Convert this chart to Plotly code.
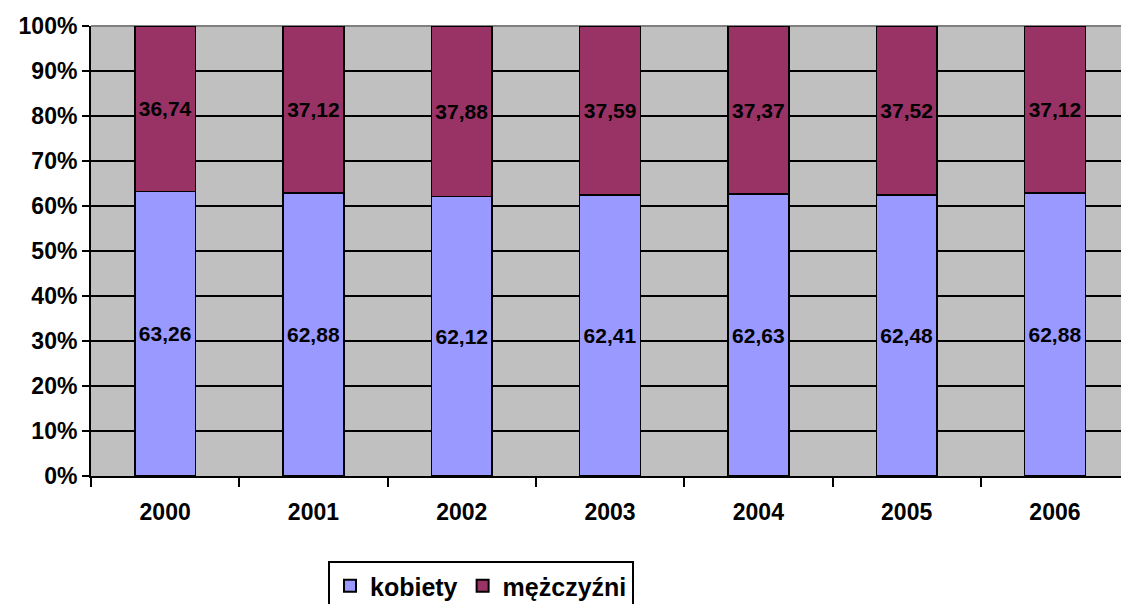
import plotly.graph_objects as go

years = ["2000", "2001", "2002", "2003", "2004", "2005", "2006"]
kobiety = [63.26, 62.88, 62.12, 62.41, 62.63, 62.48, 62.88]
mezczyzni = [36.74, 37.12, 37.88, 37.59, 37.37, 37.52, 37.12]
y_ticks = [0, 10, 20, 30, 40, 50, 60, 70, 80, 90, 100]
y_tick_labels = [f"{v}%" for v in y_ticks]

FONT = "Liberation Sans, Arial, sans-serif"

def fmt(v):
    return f"{v:.2f}".replace(".", ",")

fig = go.Figure()
fig.add_trace(go.Bar(
    x=years, y=kobiety, name="kobiety",
    marker=dict(color="#9999FF", line=dict(color="black", width=1.5)),
    text=[fmt(v) for v in kobiety], textposition="inside",
    insidetextanchor="middle", textangle=0,
    textfont=dict(family=FONT, size=21, color="black", weight="bold"),
))
fig.add_trace(go.Bar(
    x=years, y=mezczyzni, name="mężczyźni",
    marker=dict(color="#993366", line=dict(color="black", width=1.5)),
    text=[fmt(v) for v in mezczyzni], textposition="inside",
    insidetextanchor="middle", textangle=0,
    textfont=dict(family=FONT, size=21, color="black", weight="bold"),
))

fig.update_layout(
    width=1121, height=604,
    barmode="stack", bargap=0.59,
    plot_bgcolor="#C0C0C0", paper_bgcolor="white",
    margin=dict(l=91, r=0, t=26, b=128),
    uniformtext=dict(minsize=21, mode="show"),
    font=dict(family=FONT, color="black"),
    xaxis=dict(
        range=[-0.5, -0.5 + (1121 - 91) / 148.3],
        showgrid=False, ticks="outside", tickson="boundaries",
        ticklen=9, tickwidth=2, tickcolor="black",
        showline=True, linecolor="black", linewidth=2,
        tickfont=dict(family=FONT, size=23, weight="bold"),
        ticklabelstandoff=14,
        fixedrange=True,
    ),
    yaxis=dict(
        range=[0, 100], tickmode="array", tickvals=y_ticks, ticktext=y_tick_labels,
        showgrid=True, gridcolor="black", gridwidth=2,
        ticks="outside", ticklen=7, tickwidth=2, tickcolor="black",
        showline=True, linecolor="black", linewidth=2,
        tickfont=dict(family=FONT, size=23, weight="bold"),
        zeroline=False,
    ),
    legend=dict(
        orientation="h", xref="container", yref="container",
        x=328 / 1121, y=1 - 561 / 604, xanchor="left", yanchor="top",
        bgcolor="white", bordercolor="black", borderwidth=2,
        font=dict(family=FONT, size=25, weight="bold"),
        traceorder="normal", itemsizing="constant",
        tracegroupgap=0, itemwidth=30,
    ),
    shapes=[dict(type="line", xref="paper", yref="paper", x0=0, x1=1, y0=1, y1=1,
                 line=dict(color="#808080", width=2), layer="below")],
)

fig.write_html("out.html", config={"displayModeBar": False},
               post_script="document.body.style.margin='0';")
